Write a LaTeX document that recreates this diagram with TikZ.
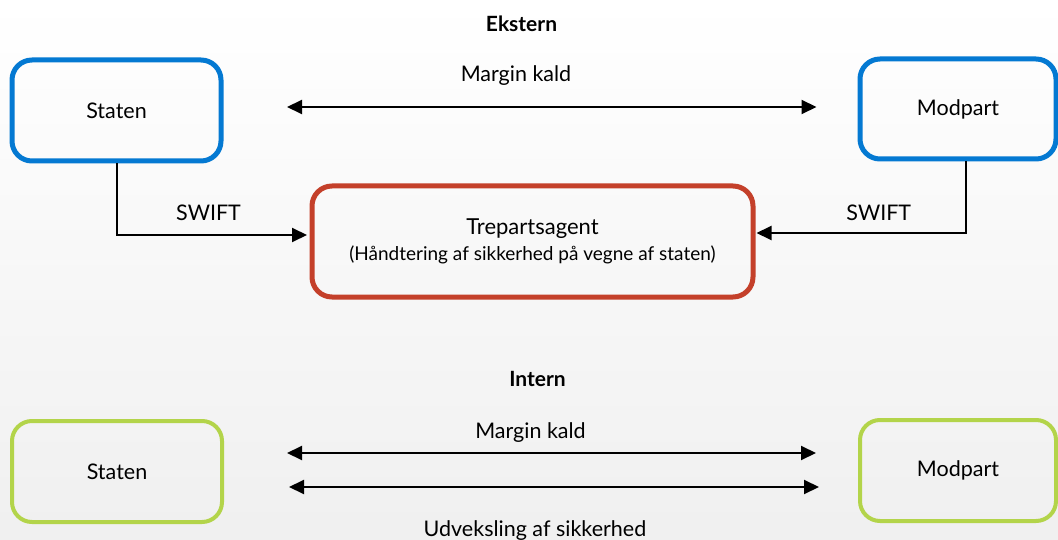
\documentclass[tikz,border=0pt]{standalone}
\usepackage{fontspec}
\setmainfont{Lato}
\usepackage{xcolor}
\definecolor{eksternBlue}{HTML}{0479D2}
\definecolor{agentRed}{HTML}{C4402A}
\definecolor{internGreen}{HTML}{B3D44A}
\usetikzlibrary{arrows.meta, positioning, calc}

\begin{document}
\begin{tikzpicture}[
        x=1pt, y=-1pt,
        >={Triangle[length=15pt,width=14pt]},
        boxNode/.style={
            draw,
            line width=5pt,
            rounded corners=20pt,
            minimum width=209pt,
            minimum height=101pt,
            inner sep=0pt,
            font=\fontsize{21.5}{25}\selectfont,
            align=center
        },
        headNode/.style={
            inner sep=0pt,
            font=\fontsize{21}{25}\selectfont\bfseries
        },
        labelNode/.style={
            inner sep=0pt,
            font=\fontsize{21.5}{25}\selectfont
        },
        arrowLine/.style={
            ->,
            line width=2pt,
            black
        },
        dblArrow/.style={
            <->,
            line width=2pt,
            black
        }
    ]
    \useasboundingbox (0,0) rectangle (1058,540);
    \shade[top color=white, bottom color=black!6] (0,0) rectangle (1058,540);

    % Ekstern
    \node[headNode] (ekstern) at (521.5,24) {Ekstern};
    \node[boxNode, draw=eksternBlue] (statenTop) at (116.5,110.5) {Staten};
    \node[boxNode, draw=eksternBlue, minimum width=196pt, minimum height=100pt] (modpartTop) at (958,109) {Modpart};
    \node[boxNode, draw=agentRed, minimum width=441pt, minimum height=111pt] (agent) at (532.5,241.5)
        {{\fontsize{22}{26}\selectfont Trepartsagent}\\[1pt]{\fontsize{19}{22}\selectfont (Håndtering af sikkerhed på vegne af staten)}};

    \draw[dblArrow, shorten <=63.5pt, shorten >=41pt] (statenTop.east |- 0,107) -- (modpartTop.west |- 0,107)
        node[labelNode, midway, above=21pt, xshift=-24.5pt] (marginTop) {Margin kald};

    % SWIFT til agenten
    \draw[arrowLine, shorten >=2.5pt] (statenTop.south) |- ($(agent.west)+(0,-6.5)$)
        node[labelNode, pos=0.75, above=13pt, xshift=-4.5pt] (swiftLeft) {SWIFT};
    \draw[arrowLine, shorten >=1pt] ([xshift=8pt]modpartTop.south) |- ($(agent.east)+(0,-8.5)$)
        node[labelNode, pos=0.75, above=11pt, xshift=18pt] (swiftRight) {SWIFT};

    % Intern
    \node[headNode] (intern) at (537.5,379) {Intern};
    \node[boxNode, draw=internGreen, line width=4pt, minimum width=210pt] (statenBot) at (117,471.5) {Staten};
    \node[boxNode, draw=internGreen, line width=4pt, minimum width=196pt] (modpartBot) at (958,470.5) {Modpart};

    \draw[dblArrow, shorten <=63pt, shorten >=42pt] ([yshift=18.5pt]statenBot.east) -- ([yshift=17.5pt]modpartBot.west)
        node[labelNode, midway, above=10pt, xshift=-10.5pt] (marginBot) {Margin kald};
    \draw[dblArrow, shorten <=65pt, shorten >=39pt] ([yshift=-15.5pt]statenBot.east) -- ([yshift=-16.5pt]modpartBot.west)
        node[labelNode, midway, below=33pt, xshift=-6pt] (udveksling) {Udveksling af sikkerhed};

\end{tikzpicture}
\end{document}
